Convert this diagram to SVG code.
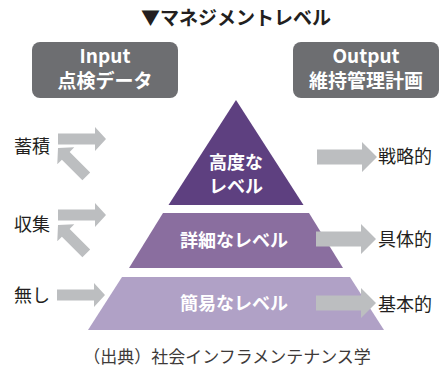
<svg xmlns="http://www.w3.org/2000/svg" xmlns:xlink="http://www.w3.org/1999/xlink" width="440" height="367" viewBox="0 0 440 367">
  <style>
    text { font-family: "Noto Sans CJK JP", "Noto Sans", sans-serif; }
    .title { font-size: 19px; font-weight: 700; fill: #231f20; text-anchor: middle; }
    .box { fill: #6d6e71; }
    .boxt { font-size: 19px; font-weight: 700; fill: #ffffff; text-anchor: middle; }
    .lvl { font-size: 18px; font-weight: 700; fill: #ffffff; text-anchor: middle; }
    .lab { font-size: 18px; fill: #231f20; }
    .cap { font-size: 17px; fill: #3e3a39; text-anchor: middle; }
    .arr { fill: #bcbec0; }
  </style>
  <defs>
    <path id="arrBig" d="M-60,-7.5 H-15 V-15 L0,0 L-15,15 V7.5 H-60 Z"/>
    <path id="arrSm" d="M-48,-5.5 H-11 V-12 L0,0 L-11,12 V5.5 H-48 Z"/>
    <path id="arrDg" d="M-40,-5.5 H-11 V-12 L0,0 L-11,12 V5.5 H-40 Z"/>
  </defs>
  <rect width="440" height="367" fill="#ffffff"/>

  <g id="title">
    <text class="title" x="236" y="25">▼マネジメントレベル</text>
  </g>

  <g id="input">
    <rect class="box" x="32" y="42" width="146" height="56" rx="8"/>
    <text class="boxt" x="105" y="63">Input</text>
    <text class="boxt" x="105" y="88">点検データ</text>
  </g>

  <g id="output">
    <rect class="box" x="293" y="42" width="146" height="56" rx="8"/>
    <text class="boxt" x="366" y="63">Output</text>
    <text class="boxt" x="366" y="88">維持管理計画</text>
  </g>

  <g id="level-high">
    <polygon points="236,100 303.5,205 168.5,205" fill="#5e4080"/>
    <text class="lvl" x="236" y="169">高度な</text>
    <text class="lvl" x="236" y="193">レベル</text>
  </g>

  <g id="level-detail">
    <polygon points="163,213 309,213 343,268 129,268" fill="#8a6e9f"/>
    <text class="lvl" x="234" y="247">詳細なレベル</text>
  </g>

  <g id="level-simple">
    <polygon points="122,277 350,277 384,330 88,330" fill="#b0a1c6"/>
    <text class="lvl" x="234" y="310">簡易なレベル</text>
  </g>

  <g id="label-accumulate"><text class="lab" x="14" y="153">蓄積</text></g>
  <g id="label-collect"><text class="lab" x="14" y="231">収集</text></g>
  <g id="label-none"><text class="lab" x="14" y="302">無し</text></g>
  <g id="label-strategic"><text class="lab" x="378" y="163">戦略的</text></g>
  <g id="label-concrete"><text class="lab" x="378" y="246">具体的</text></g>
  <g id="label-basic"><text class="lab" x="378" y="311">基本的</text></g>

  <g id="connectors" class="arr">
    <use xlink:href="#arrSm" transform="translate(106,139)"/>
    <use xlink:href="#arrDg" transform="translate(58,148) rotate(225)"/>
    <use xlink:href="#arrSm" transform="translate(106,215)"/>
    <use xlink:href="#arrDg" transform="translate(58,225) rotate(225)"/>
    <use xlink:href="#arrSm" transform="translate(105,295)"/>
    <use xlink:href="#arrBig" transform="translate(377,157)"/>
    <use xlink:href="#arrBig" transform="translate(376,239)"/>
    <use xlink:href="#arrBig" transform="translate(376,303)"/>
  </g>

  <g id="caption">
    <text class="cap" x="227" y="363">（出典）社会インフラメンテナンス学</text>
  </g>
</svg>
